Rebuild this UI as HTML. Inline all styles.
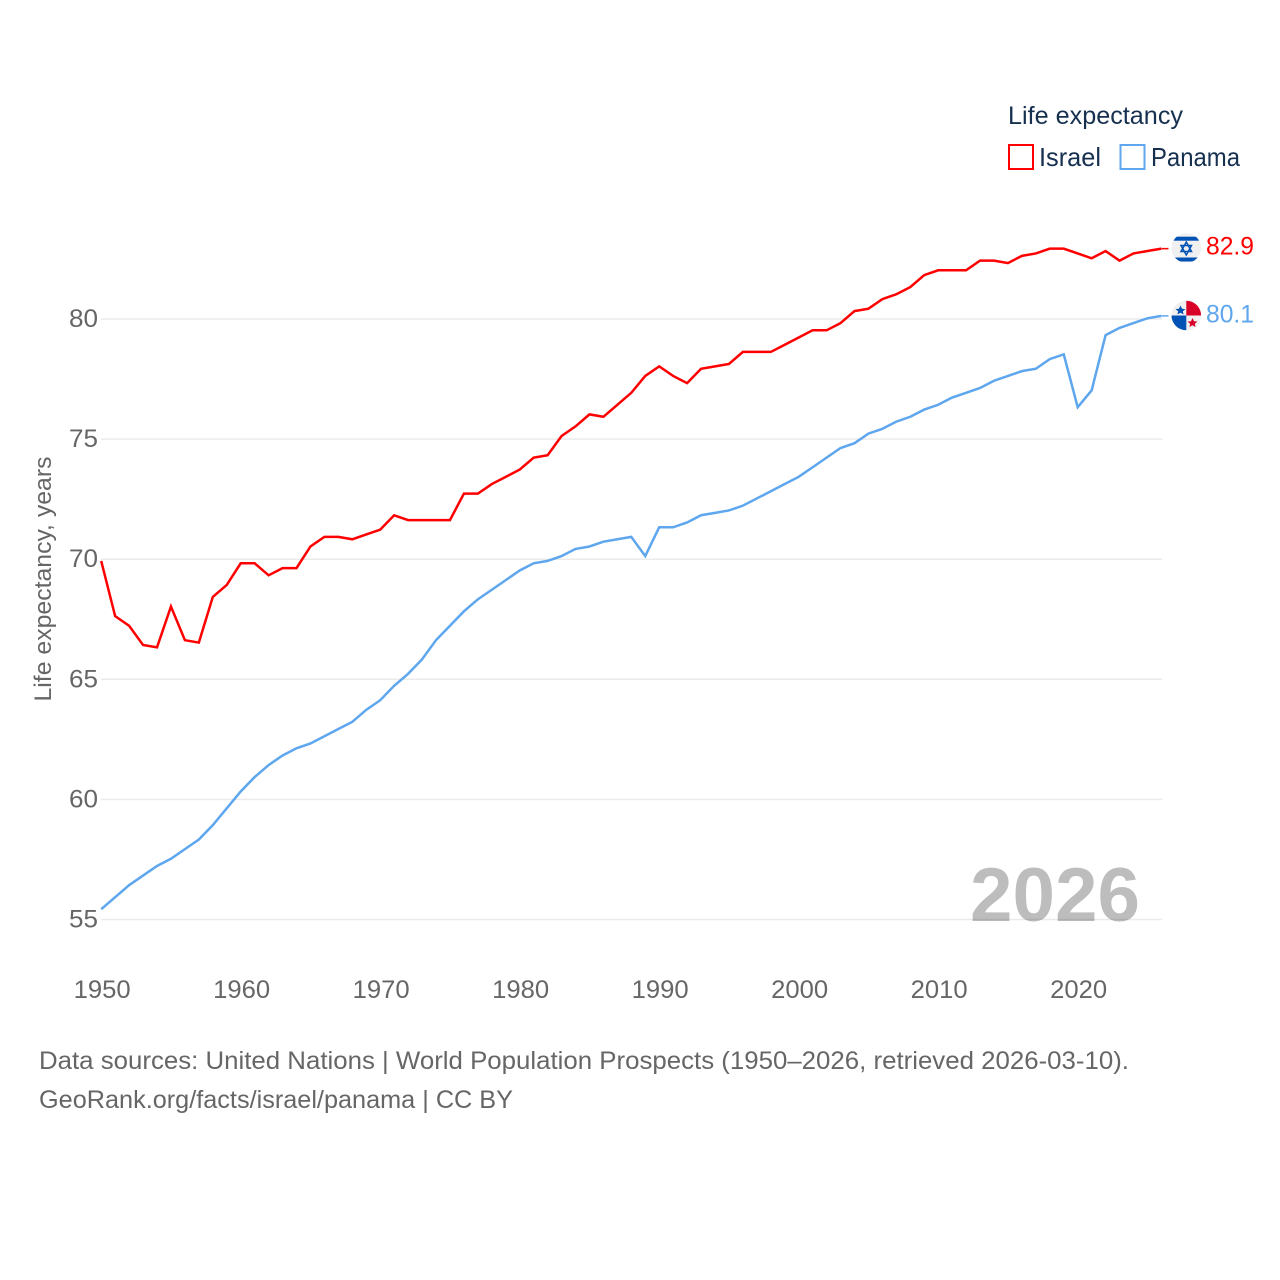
<!DOCTYPE html>
<html lang="en">
<head>
<meta charset="utf-8">
<title>Life expectancy: Israel and Panama</title>
<style>
html,body{margin:0;padding:0;background:#fff;width:1280px;height:1280px;overflow:hidden}
svg{display:block;font-family:"Liberation Sans",sans-serif}
</style>
</head>
<body>
<svg id="chart" width="1280" height="1280" viewBox="0 0 1280 1280">
  <rect width="1280" height="1280" fill="#fff"/>
  <g id="grid"></g>
  <text x="1055" y="921" text-anchor="middle" font-size="76" font-weight="bold" fill="#000" fill-opacity="0.26" textLength="170" lengthAdjust="spacingAndGlyphs">2026</text>
  <g id="yticks"></g>
  <g id="xticks"></g>
  <text transform="translate(51 579) rotate(-90)" text-anchor="middle" font-size="24" fill="#666" textLength="245" lengthAdjust="spacingAndGlyphs">Life expectancy, years</text>
  <g id="series"></g>

  <g>
    <text x="1008" y="124" font-size="25" fill="#16304f" textLength="175" lengthAdjust="spacingAndGlyphs">Life expectancy</text>
    <g>
      <rect x="1009" y="145" width="24" height="24" fill="none" stroke="#ff0000" stroke-width="2"/>
      <text x="1039" y="166" font-size="26" fill="#16304f" textLength="62" lengthAdjust="spacingAndGlyphs">Israel</text>
    </g>
    <g>
      <rect x="1120.500" y="145" width="24" height="24" fill="none" stroke="#5ea6ee" stroke-width="2"/>
      <text x="1151" y="166" font-size="26" fill="#16304f" textLength="89" lengthAdjust="spacingAndGlyphs">Panama</text>
    </g>
  </g>

  <g>
    <clipPath id="c1"><circle cx="1186.300" cy="248" r="14.800"/></clipPath>
    <circle cx="1186.300" cy="248" r="14.800" fill="#f0f0f0"/>
    <g clip-path="url(#c1)" fill="#0052b4">
      <rect x="1170" y="236.700" width="33" height="4"/>
      <rect x="1170" y="257.500" width="33" height="4"/>
    </g>
    <g fill="none" stroke="#0052b4" stroke-width="1.500">
      <polygon points="1186.300,242 1191.500,251.500 1181,251.500"/>
      <polygon points="1186.300,255 1191.500,245.500 1181,245.500"/>
    </g>
  </g>
  <g>
    <clipPath id="c2"><circle cx="1186.300" cy="315.500" r="14.800"/></clipPath>
    <circle cx="1186.300" cy="315.500" r="14.800" fill="#f0f0f0"/>
    <g clip-path="url(#c2)">
      <rect x="1186.300" y="300" width="16" height="15.500" fill="#d80027"/>
      <rect x="1171" y="315.500" width="15.300" height="16" fill="#0052b4"/>
    </g>
    <polygon points="1180.500,305.500 1182,308.800 1185.500,309.100 1182.800,311.300 1183.600,314.500 1180.500,312.700 1177.400,314.500 1178.200,311.300 1175.500,309.100 1179,308.800" fill="#0052b4"/>
    <polygon points="1192.500,318 1194,321.300 1197.500,321.600 1194.800,323.800 1195.600,327 1192.500,325.200 1189.400,327 1190.200,323.800 1187.500,321.600 1191,321.300" fill="#d80027"/>
  </g>
  <text x="1206" y="254.500" font-size="25" fill="#ff0000" textLength="48" lengthAdjust="spacingAndGlyphs">82.9</text>
  <text x="1206" y="322.500" font-size="25" fill="#5ea6ee" textLength="48" lengthAdjust="spacingAndGlyphs">80.1</text>

  <text x="39" y="1069" font-size="25" fill="#666" textLength="1090" lengthAdjust="spacingAndGlyphs">Data sources: United Nations | World Population Prospects (1950–2026, retrieved 2026-03-10).</text>
  <text x="39" y="1108" font-size="25" fill="#666" textLength="474" lengthAdjust="spacingAndGlyphs">GeoRank.org/facts/israel/panama | CC BY</text>
</svg>
<script>
const startYear = 1950;
const yTicks = [55, 60, 65, 70, 75, 80];
const xTicks = [1950, 1960, 1970, 1980, 1990, 2000, 2010, 2020];
const israelValues = [69.9,67.6,67.2,66.4,66.3,68.0,66.6,66.5,68.4,68.9,
  69.8,69.8,69.3,69.6,69.6,70.5,70.9,70.9,70.8,71.0,
  71.2,71.8,71.6,71.6,71.6,71.6,72.7,72.7,73.1,73.4,
  73.7,74.2,74.3,75.1,75.5,76.0,75.9,76.4,76.9,77.6,
  78.0,77.6,77.3,77.9,78.0,78.1,78.6,78.6,78.6,78.9,
  79.2,79.5,79.5,79.8,80.3,80.4,80.8,81.0,81.3,81.8,
  82.0,82.0,82.0,82.4,82.4,82.3,82.6,82.7,82.9,82.9,
  82.7,82.5,82.8,82.4,82.7,82.8,82.9];
const panamaValues = [55.4,55.9,56.4,56.8,57.2,57.5,57.9,58.3,58.9,59.6,
  60.3,60.9,61.4,61.8,62.1,62.3,62.6,62.9,63.2,63.7,
  64.1,64.7,65.2,65.8,66.6,67.2,67.8,68.3,68.7,69.1,
  69.5,69.8,69.9,70.1,70.4,70.5,70.7,70.8,70.9,70.1,
  71.3,71.3,71.5,71.8,71.9,72.0,72.2,72.5,72.8,73.1,
  73.4,73.8,74.2,74.6,74.8,75.2,75.4,75.7,75.9,76.2,
  76.4,76.7,76.9,77.1,77.4,77.6,77.8,77.9,78.3,78.5,
  76.3,77.0,79.3,79.6,79.8,80.0,80.1];

const NS = 'http://www.w3.org/2000/svg';
function xScale(year) { return 101.5 + (year - 1950) * 13.95; }
function yScale(v) { return 318.3 + (80 - v) * 24.02; }
function make(tag, attrs, parent) {
  const el = document.createElementNS(NS, tag);
  for (const k in attrs) el.setAttribute(k, attrs[k]);
  parent.appendChild(el);
  return el;
}
const gridG = document.getElementById('grid');
const yG = document.getElementById('yticks');
const xG = document.getElementById('xticks');
const seriesG = document.getElementById('series');

yTicks.forEach(function (t) {
  const gy = yScale(t) + 0.7;
  const line = make('line', {x1: 101, x2: 1162, y1: gy, y2: gy, stroke: '#ebebeb', 'stroke-width': 1.5}, gridG);
  
  
  const label = make('text', {x: 98, y: gy + 8, 'text-anchor': 'end', 'font-size': 25, fill: '#666', textLength: 29, lengthAdjust: 'spacingAndGlyphs'}, yG);
  
  
  label.textContent = t;
});
xTicks.forEach(function (t) {
  const label = make('text', {x: xScale(t) + 0.7, y: 998, 'text-anchor': 'middle', 'font-size': 25, fill: '#666', textLength: 57, lengthAdjust: 'spacingAndGlyphs'}, xG);
  
  
  label.textContent = t;
});
function drawSeries(values, color, name) {
  const pts = values.map(function (v, i) {
    return (xScale(startYear + i) - 0.3).toFixed(2) + ',' + yScale(v).toFixed(2);
  }).join(' ');
  const line = make('polyline', {points: pts, fill: 'none', stroke: color, 'stroke-width': 2.5, 'stroke-linejoin': 'miter'}, seriesG);
  
  
  const lastY = yScale(values[values.length - 1]);
  const stub = make('line', {x1: xScale(startYear + values.length - 1), x2: 1168.5, y1: lastY, y2: lastY, stroke: color, 'stroke-width': 1.5}, seriesG);
  
  
}
drawSeries(panamaValues, '#5ea6ee', 'panama-line');
drawSeries(israelValues, '#ff0000', 'israel-line');
</script>
</body>
</html>
